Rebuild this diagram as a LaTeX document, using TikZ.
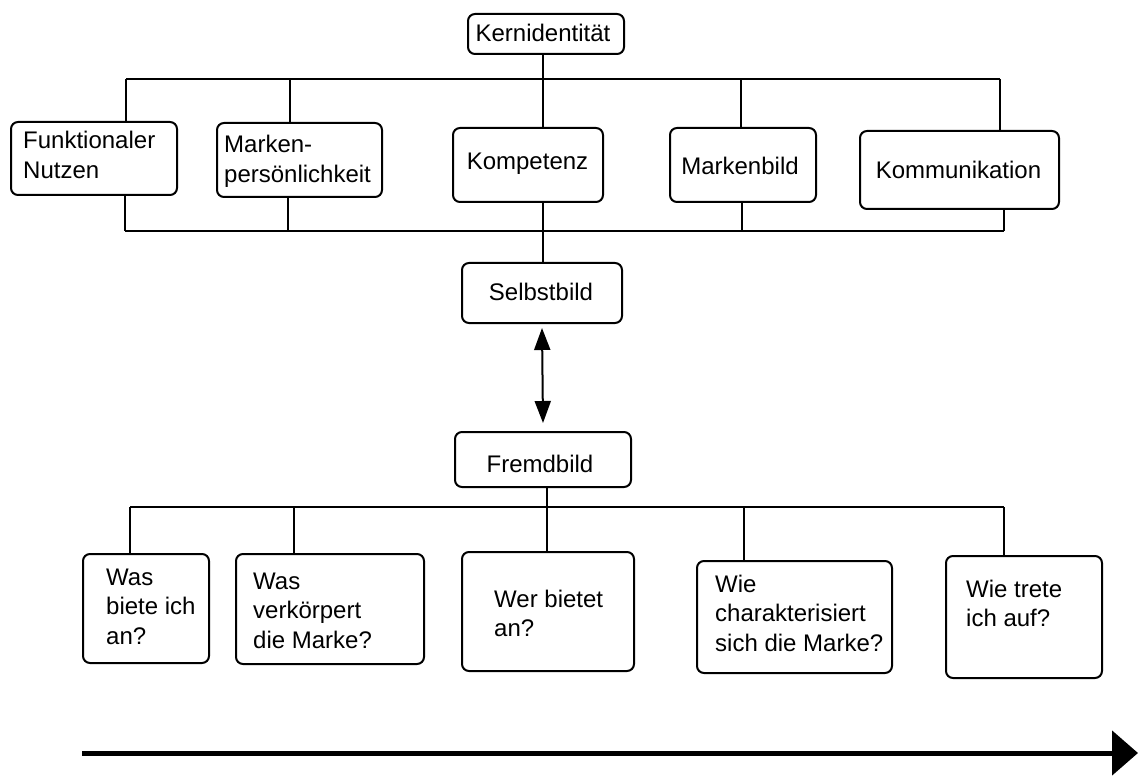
\documentclass[tikz,border=0pt]{standalone}
\usepackage{fontspec}
\setmainfont{Liberation Sans}
\usetikzlibrary{arrows.meta}
\begin{document}
\begin{tikzpicture}[x=1pt,y=-1pt,
  box/.style={draw, line width=2pt, rounded corners=7pt, inner sep=0pt},
  lbl/.style={anchor=base west, inner sep=0pt, font=\fontsize{24}{29.5}\selectfont},
  clbl/.style={anchor=base, inner sep=0pt, font=\fontsize{24}{29.5}\selectfont},
  link/.style={line width=2pt},
  tip/.style={line width=2pt, {Triangle[length=22pt,width=16pt]}-{Triangle[length=22pt,width=16pt]}},
  timeline/.style={line width=5pt, -{Triangle[length=26pt,width=44pt]}}]
\useasboundingbox (0,0) rectangle (1141,778);

% ---- upper part: core identity and its five facets ----
\node[box, minimum width=156pt, minimum height=40pt] (kern) at (546,34) {};
\node[box, minimum width=166pt, minimum height=73pt] (f1) at (94,158.5) {};
\node[box, minimum width=165pt, minimum height=74pt] (f2) at (299.5,160) {};
\node[box, minimum width=150pt, minimum height=74pt] (f3) at (528,165) {};
\node[box, minimum width=146pt, minimum height=74pt] (f4) at (743,165) {};
\node[box, minimum width=199pt, minimum height=78pt] (f5) at (959.5,170) {};
\node[box, minimum width=160pt, minimum height=60pt] (selbst) at (542,293) {};
\node[box, minimum width=176pt, minimum height=55pt] (fremd) at (543,459.5) {};

\node[clbl] (kernT) at (543,42) {Kernidentität};
\node[lbl] (f1T) at (23,149) {\begin{tabular}[t]{@{}l@{}}Funktionaler\\Nutzen\end{tabular}};
\node[lbl] (f2T) at (224,153) {\begin{tabular}[t]{@{}l@{}}Marken-\\persönlichkeit\end{tabular}};
\node[clbl] (f3T) at (527.5,170) {Kompetenz};
\node[clbl] (f4T) at (740,175) {Markenbild};
\node[clbl] (f5T) at (958.5,179) {Kommunikation};
\node[clbl] (selbstT) at (541,300) {Selbstbild};
\node[clbl] (fremdT) at (540,472) {Fremdbild};

% upper bus
\coordinate (tA) at (126,79);
\coordinate (tB) at (290,79);
\coordinate (tC) at (543,79);
\coordinate (tD) at (741,79);
\coordinate (tE) at (1000,79);
\draw[link] (tA) -- (tE);
\draw[link] (tC |- kern.south) -- (tC);
\draw[link] (tA) -- (tA |- f1.north);
\draw[link] (tB) -- (tB |- f2.north);
\draw[link] (tC) -- (tC |- f3.north);
\draw[link] (tD) -- (tD |- f4.north);
\draw[link] (tE) -- (tE |- f5.north);

% lower bus
\coordinate (bA) at (125,231);
\coordinate (bB) at (288,231);
\coordinate (bC) at (543,231);
\coordinate (bD) at (742,231);
\coordinate (bE) at (1004,231);
\draw[link] (bA) -- (bE);
\draw[link] (bA |- f1.south) -- (bA);
\draw[link] (bB |- f2.south) -- (bB);
\draw[link] (bC |- f3.south) -- (bC);
\draw[link] (bD |- f4.south) -- (bD);
\draw[link] (bE |- f5.south) -- (bE);
\draw[link] (bC) -- (bC |- selbst.north);

% self image versus external image
\draw[tip] ([yshift=-4pt]selbst.south) -- ([yshift=8pt]fremd.north);

% ---- lower part: the questions ----
\node[box, minimum width=126pt, minimum height=109pt] (q1) at (146,608.5) {};
\node[box, minimum width=188pt, minimum height=110pt] (q2) at (330,609) {};
\node[box, minimum width=172pt, minimum height=119pt] (q3) at (548,611.5) {};
\node[box, minimum width=195pt, minimum height=112pt] (q4) at (794.5,617) {};
\node[box, minimum width=156pt, minimum height=122pt] (q5) at (1024,617) {};

\node[lbl] (q1T) at (106,585) {\begin{tabular}[t]{@{}l@{}}Was\\biete ich\\an?\end{tabular}};
\node[lbl] (q2T) at (253,589) {\begin{tabular}[t]{@{}l@{}}Was\\verkörpert\\die Marke?\end{tabular}};
\node[lbl] (q3T) at (494,607) {\begin{tabular}[t]{@{}l@{}}Wer bietet\\an?\end{tabular}};
\node[lbl] (q4T) at (715,592) {\begin{tabular}[t]{@{}l@{}}Wie\\charakterisiert\\sich die Marke?\end{tabular}};
\node[lbl] (q5T) at (966,597) {\begin{tabular}[t]{@{}l@{}}Wie trete\\ich auf?\end{tabular}};

\coordinate (cA) at (130,507);
\coordinate (cB) at (294,507);
\coordinate (cC) at (547,507);
\coordinate (cD) at (744,507);
\coordinate (cE) at (1004,507);
\draw[link] (cA) -- (cE);
\draw[link] (cC |- fremd.south) -- (cC);
\draw[link] (cA) -- (cA |- q1.north);
\draw[link] (cB) -- (cB |- q2.north);
\draw[link] (cC) -- (cC |- q3.north);
\draw[link] (cD) -- (cD |- q4.north);
\draw[link] (cE) -- (cE |- q5.north);

% time axis
\coordinate (t0) at (82,753);
\coordinate (t1) at (1138,753);
\draw[timeline] (t0) -- (t1);
\end{tikzpicture}
\end{document}
